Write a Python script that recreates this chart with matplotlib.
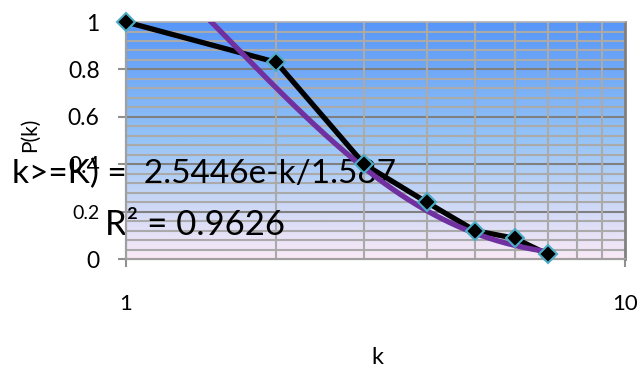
import numpy as np
import matplotlib
matplotlib.use("Agg")
import matplotlib.pyplot as plt
from matplotlib.colors import LinearSegmentedColormap

plt.rcParams['font.family'] = ['Lato', 'DejaVu Sans']

# Data
k_values = [1, 2, 3, 4, 5, 6, 7]
p_values = [1.0, 0.83, 0.40, 0.24, 0.12, 0.088, 0.02]
fit_a = 2.5446
fit_b = 1.587
y_ticks = [0, 0.2, 0.4, 0.6, 0.8, 1]
y_tick_labels = ["0", "0.2", "0.4", "0.6", "0.8", "1"]
x_ticks = [1, 10]
x_tick_labels = ["1", "10"]
eq_text = "k>=K) =  2.5446e-k/1.587"
r2_text = "R² = 0.9626"

fig = plt.figure(figsize=(6.4, 3.67), dpi=100)
ax = fig.add_axes([0.197, 0.294, 0.780, 0.646])

# gradient background
cmap = LinearSegmentedColormap.from_list(
    "bg", [(0.0, (250/255, 233/255, 246/255)),
           (0.5, (150/255, 196/255, 246/255)),
           (1.0, (86/255, 150/255, 248/255))])
grad = np.linspace(1, 0, 256).reshape(-1, 1)
ax.imshow(grad, cmap=cmap, extent=[0, 1, 0, 1], transform=ax.transAxes,
          aspect='auto', zorder=0, interpolation='bilinear')

ax.set_xscale('log')
ax.set_xlim(1, 10)
ax.set_ylim(0, 1)

# grid lines
for yv in np.arange(0.04, 1.0, 0.04):
    is_major = abs(round(yv / 0.2) * 0.2 - yv) < 1e-6
    ax.axhline(yv, color='#808080' if is_major else '#AAAAAA',
               lw=1.5, zorder=1)
for xv in range(2, 10):
    ax.axvline(xv, color='#AAAAAA', lw=1.5, zorder=1)

# data line
ax.plot(k_values, p_values, color='black', lw=3.8, zorder=3,
        solid_joinstyle='round')
# trendline
kk = np.linspace(k_values[0], k_values[-1], 300)
ax.plot(kk, fit_a * np.exp(-kk / fit_b), color='#7030A0', lw=3.8, zorder=4)
# markers
ax.plot(k_values, p_values, linestyle='none', marker='D', ms=9,
        mfc='black', mec='#4BACC6', mew=1.5, zorder=5, clip_on=False)

# spines
for s in ['left', 'bottom']:
    ax.spines[s].set_color('#A0A0A0')
    ax.spines[s].set_linewidth(1.6)
ax.spines['top'].set_color('#B0B0B0')
ax.spines['top'].set_linewidth(1.2)
ax.spines['right'].set_color('#808080')
ax.spines['right'].set_linewidth(2)

ax.set_yticks(y_ticks)
ax.set_yticklabels(y_tick_labels)
ax.tick_params(axis='y', length=6, width=1.5, color='#909090', labelsize=16.5,
               pad=13)
ax.set_xticks(x_ticks)
ax.set_xticklabels(x_tick_labels)
ax.xaxis.set_minor_locator(matplotlib.ticker.NullLocator())
ax.tick_params(axis='x', length=6, width=1.5, color='#909090', labelsize=16,
               pad=19)
for lbl in ax.get_yticklabels():
    if lbl.get_text() == "0.2":
        lbl.set_fontsize(14)

fig.text(0.047, 0.632, "P(k)", rotation=90, fontsize=15,
         ha='center', va='center')
fig.text(0.589, 1 - 357 / 367, "k", fontsize=17, ha='center', va='center')

ax.text(0.018, 0.525, eq_text, transform=fig.transFigure, fontsize=24,
        ha='left', va='center', zorder=2, clip_on=False)
ax.text(0.164, 0.388, r2_text, transform=fig.transFigure, fontsize=25,
        ha='left', va='center', zorder=2, clip_on=False)

fig.savefig("out.png", dpi=100)
